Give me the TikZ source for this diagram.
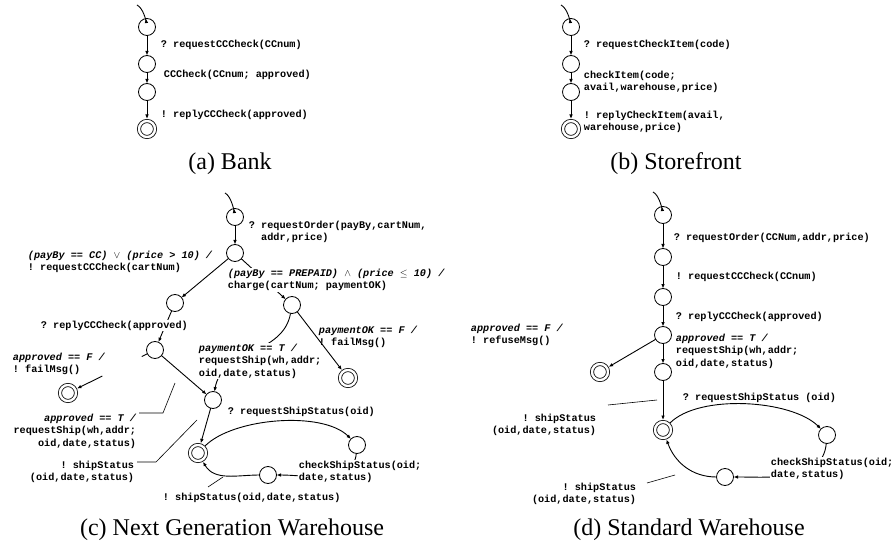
\documentclass[tikz,border=0pt]{standalone}
\usepackage{fontspec}
\setmainfont{Liberation Serif}
\setmonofont{Liberation Mono}
\usepackage{amsmath,amssymb}
\usetikzlibrary{arrows.meta, positioning}

\tikzset{
  st/.style={circle, draw, line width=.8pt, minimum size=17pt, inner sep=0pt, outer sep=0pt},
  fin/.style={st, double, double distance=2.4pt, minimum size=16pt, outer sep=2pt},
  msg/.style={font=\fontsize{10.2}{12.6}\selectfont\ttfamily\bfseries, inner sep=.5pt, align=left},
  msgw/.style={msg, fill=white},
  subcap/.style={font=\fontsize{24}{28}\selectfont, anchor=base},
  lead/.style={line width=.6pt},
}
\newcommand{\guard}[1]{{\itshape #1}}

\begin{document}
\begin{tikzpicture}[x=1pt, y=1pt, line width=.9pt, >={Latex[length=4.5pt, width=3.6pt]}]
  \useasboundingbox (0,0) rectangle (896,-545);

  % (a) bank
  \node (a0) at (147,-27) [st] {};
  \node [below=20pt of a0] (a1) [st] {};
  \node [below=11pt of a1] (a2) [st] {};
  \node [below=18.5pt of a2] (a3) [fin] {};
  \coordinate (a0in) at (137,-5);
  \draw [->] (a0in) .. controls +(6,-3) and +(-1,7) .. (a0);
  \draw [->] (a0) edge (a1);
  \draw [->] (a1) edge (a2);
  \draw [->] (a2) edge (a3);
  \node [msg, anchor=west] (la1) at (160,-45) {? requestCCCheck(CCnum)};
  \node [msg, anchor=west] (la2) at (163,-75) {CCCheck(CCnum; approved)};
  \node [msg, anchor=west] (la3) at (160,-115) {! replyCCCheck(approved)};
  \node [subcap] (capa) at (230,-170) {(a) Bank};

  % (b) storefront
  \node (b0) at (571,-27) [st] {};
  \node [below=20pt of b0] (b1) [st] {};
  \node [below=11pt of b1] (b2) [st] {};
  \node [below=18.5pt of b2] (b3) [fin] {};
  \coordinate (b0in) at (561,-5);
  \draw [->] (b0in) .. controls +(6,-3) and +(-1,7) .. (b0);
  \draw [->] (b0) edge (b1);
  \draw [->] (b1) edge (b2);
  \draw [->] (b2) edge (b3);
  \node [msg, anchor=west] (lb1) at (583,-45) {? requestCheckItem(code)};
  \node [msg, anchor=north west] (lb2) at (583,-70) {checkItem(code;\\avail,warehouse,price)};
  \node [msg, anchor=north west] (lb3) at (583,-110) {! replyCheckItem(avail,\\warehouse,price)};
  \node [subcap] (capb) at (676,-170) {(b) Storefront};

  % (c) next generation warehouse
  \node (c0) at (235,-217) [st] {};
  \node [below=19pt of c0] (c1) [st] {};
  \node (c2) at (175,-303) [st] {};
  \node (c3) at (292,-305) [st] {};
  \node (c4) at (155,-350) [st] {};
  \node (c5) at (68,-393) [fin] {};
  \node (c6) at (213,-400) [st] {};
  \node (c7) at (348,-378) [fin] {};
  \node (c8) at (198,-453) [fin] {};
  \node (c9) at (357,-445) [st] {};
  \node (c10) at (268,-475) [st] {};
  \coordinate (c0in) at (225,-193);
  \draw [->] (c0in) .. controls +(6,-3) and +(-1,7) .. (c0);
  \draw [->] (c0) edge (c1);
  \draw [->] (c1) edge (c2);
  \draw [->] (c1) edge (c3);
  \draw [->] (c2) edge (c4);
  \draw [->] (c3) edge [out=-100, in=80] (c6);
  \draw [->] (c4) edge (c6);
  \draw [->] (c6) edge (c8);
  \draw [->] (c8) edge [out=45, in=135, looseness=.7] (c9);
  \draw [->] (c9) edge [out=-95, in=0] (c10);
  \draw [->] (c10) edge [out=180, in=-60] (c8);
  \path (c4) -- (c5) coordinate [pos=.08] (c45a) coordinate [pos=.64] (c45b);
  \draw (c4) -- (c45a);
  \draw [->] (c45b) -- (c5);
  \node [msg, anchor=north west] (lc0) at (248,-220) {? requestOrder(payBy,cartNum,\\\hphantom{? }addr,price)};
  \node [msg, anchor=north west] (lc1) at (27,-250) {\guard{(payBy == CC) $\vee$ (price > 10) /}\\! requestCCCheck(cartNum)};
  \node [msgw, anchor=north west] (lc2) at (227,-268) {\guard{(payBy == PREPAID) $\wedge$ (price $\leq$ 10) /}\\charge(cartNum; paymentOK)};
  \node [msgw, anchor=north west] (lc3) at (40,-320) {? replyCCCheck(approved)};
  \node [msg, anchor=north west] (lc4) at (12,-352) {\guard{approved == F /}\\! failMsg()};
  \node [msgw, anchor=north west] (lc5) at (198,-343) {\guard{paymentOK == T /}\\requestShip(wh,addr;\\oid,date,status)};
  \node [msg, anchor=north west] (lc6) at (318,-325) {\guard{paymentOK == F /}\\! failMsg()};
  \node [msg, anchor=north east, align=right] (lc7) at (137,-413) {\guard{approved == T /}\\requestShip(wh,addr;\\oid,date,status)};
  \node [msg, anchor=north east, align=right] (lc8) at (135,-460) {! shipStatus\\(oid,date,status)};
  \node [msg, anchor=west] (lc9) at (227,-412) {? requestShipStatus(oid)};
  \node [msgw, anchor=north west] (lc10) at (298,-460) {checkShipStatus(oid;\\date,status)};
  \node [msg, anchor=north west] (lc11) at (162,-492) {! shipStatus(oid,date,status)};
  \draw [->] (c3) edge (c7);
  \coordinate (c46t) at (175,-383);
  \coordinate (c68t) at (197,-420);
  \coordinate (c108t) at (223,-477);
  \draw [lead] ([xshift=2pt]lc7.north east) -- ++(24,0) -- (c46t);
  \draw [lead] ([shift={(2pt,-2pt)}]lc8.north east) -- ++(19,0) -- (c68t);
  \draw [lead] ([shift={(46pt,5pt)}]lc11.north west) -- (c108t);
  \node [subcap] (capc) at (232,-535) {(c) Next Generation Warehouse};

  % (d) standard warehouse
  \node (d0) at (663,-215) [st] {};
  \node [below=25pt of d0] (d1) [st] {};
  \node [below=23pt of d1] (d2) [st] {};
  \node [below=21pt of d2] (d3) [st] {};
  \node [below=20pt of d3] (d4) [st] {};
  \node [below=39.5pt of d4] (d6) [fin] {};
  \node (d5) at (600,-372) [fin] {};
  \node (d7) at (827,-435) [st] {};
  \node (d8) at (725,-477) [st] {};
  \coordinate (d0in) at (653,-192);
  \draw [->] (d0in) .. controls +(6,-3) and +(-1,7) .. (d0);
  \draw [->] (d0) edge (d1);
  \draw [->] (d1) edge (d2);
  \draw [->] (d2) edge (d3);
  \draw [->] (d3) edge (d4);
  \draw [->] (d3) edge (d5);
  \draw [->] (d4) edge (d6);
  \draw [->] (d6) edge [out=45, in=135, looseness=.7] (d7);
  \draw [->] (d7) edge [out=-95, in=0] (d8);
  \draw [->] (d8) edge [out=180, in=-70] (d6);
  \node [msg, anchor=west] (ld0) at (673,-238) {? requestOrder(CCNum,addr,price)};
  \node [msg, anchor=west] (ld1) at (675,-277) {! requestCCCheck(CCnum)};
  \node [msg, anchor=west] (ld2) at (675,-317) {? replyCCCheck(approved)};
  \node [msg, anchor=north west] (ld3) at (675,-333) {\guard{approved == T /}\\requestShip(wh,addr;\\oid,date,status)};
  \node [msg, anchor=north west] (ld4) at (470,-323) {\guard{approved == F /}\\! refuseMsg()};
  \node [msg, anchor=north east, align=right] (ld5) at (597,-413) {! shipStatus\\(oid,date,status)};
  \node [msg, anchor=west] (ld6) at (682,-398) {? requestShipStatus (oid)};
  \node [msgw, anchor=north west] (ld7) at (770,-457) {checkShipStatus(oid;\\date,status)};
  \node [msg, anchor=north east, align=right] (ld8) at (637,-482) {! shipStatus\\(oid,date,status)};
  \coordinate (d46t) at (657,-400);
  \coordinate (d86t) at (675,-475);
  \draw [lead] ([shift={(11pt,8pt)}]ld5.north east) -- (d46t);
  \draw [lead] ([shift={(10pt,-1pt)}]ld8.north east) -- (d86t);
  \node [subcap] (capd) at (689,-535) {(d) Standard Warehouse};
\end{tikzpicture}
\end{document}
